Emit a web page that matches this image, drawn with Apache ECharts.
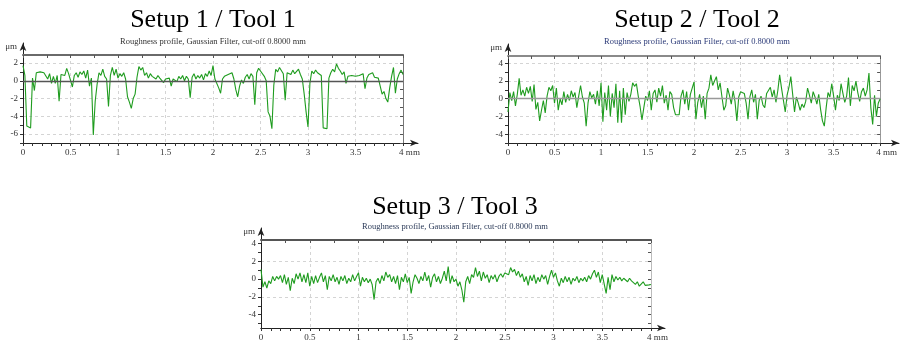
<!DOCTYPE html>
<html>
<head>
<meta charset="utf-8">
<script src="https://cdn.jsdelivr.net/npm/echarts@6/dist/echarts.min.js"></script>
<style>
    html, body { margin: 0; padding: 0; background: #fff; }
    #chartView { width: 900px; height: 342px; }
</style>
</head>
<body>
<div id="chartView"></div>
<script>
    // sampling step along the profile (mm)
    var STEP = 0.02;

    var titles = ['Setup 1 / Tool 1', 'Setup 2 / Tool 2', 'Setup 3 / Tool 3'];
    var subTitles = [
        'Roughness profile, Gaussian Filter, cut-off 0.8000 mm',
        'Roughness profile, Gaussian Filter, cut-off 0.8000 mm',
        'Roughness profile, Gaussian Filter, cut-off 0.8000 mm'
    ];
    var xLabels = ['0', '0.5', '1', '1.5', '2', '2.5', '3', '3.5', '4 mm'];
    var yUnit = 'μm';

    // profile heights in μm, one value every 0.02 mm from 0 to 4 mm
    var profile1 = [
        1.7, 0.6, -5.1, -5.2, -5.3, 0.3, -1.1, 0.9, 1.1, 1.0,
        1.1, 0.9, 1.0, 0.2, 0.8, -0.3, 0.5, -0.3, 0.6, -2.3,
        0.7, 0.9, 0.6, 1.4, 0.8, 0.9, -0.7, 0.6, 0.9, 0.4,
        1.0, 0.7, 1.1, 0.3, 1.2, -0.6, 0.3, -6.1, -2.3, -0.4,
        0.9, 0.6, 1.3, 0.5, 0.2, -2.9, 0.6, 1.5, 0.6, 1.3,
        0.3, 0.8, 0.5, 0.9, 0.2, -1.8, -2.4, -3.1, -2.0, -1.5,
        0.4, 1.6, 1.2, 1.5, 0.6, 0.9, 0.3, 0.8, 0.5, 0.7,
        0.2, 0.6, 0.3, 0.5, -0.2, 0.2, 0.0, 0.3, -0.6, 0.2,
        0.4, -0.1, 0.5, 0.2, 0.6, 0.0, 0.5, 0.2, -1.9, 0.4,
        0.8, 0.2, 0.6, 0.3, 0.7, 0.1, 0.8, 0.5, 1.1, 0.6,
        1.7, 0.2, 0.0, -0.8, -1.4, 0.2, 0.5, 0.3, 0.7, 0.5,
        0.9, 0.2, -1.0, -1.8, -0.6, 0.1, -0.3, 0.4, 0.7, 0.2,
        0.8, 0.5, -2.7, 0.9, 1.4, 1.1, 1.3, 0.5, 0.0, -3.5,
        -4.0, -5.4, -0.5, 1.3, 1.0, 1.5, 1.4, 0.8, -2.2, 0.9,
        1.1, 0.7, 1.2, 0.8, 1.0, 1.3, 0.7, 0.2, -1.5, -3.5,
        -5.2, -0.3, 1.1, 0.8, 1.2, 0.9, 1.0, 0.6, -5.3, -5.4,
        -5.4, 0.3, 0.9, 1.3, 1.0, 1.9, 1.4, 1.1, 0.7, 1.0,
        -0.3, 0.5, 0.7, 0.6, 0.8, 0.5, 0.7, 0.6, 0.4, 0.8,
        -0.9, 0.3, 0.7, 0.5, 0.9, 0.4, 0.6, 0.3, 0.5, -1.5,
        -1.2, -2.0, -2.4, -0.8, 0.5, 1.5, -1.4, 0.2, 0.8, 1.2,
        0.7
    ];
    var profile2 = [
        -1.5, 0.7, -0.2, 0.8, -0.8, 0.5, 2.3, 0.4, 1.0, 0.3,
        1.3, 0.6, 1.4, -0.3, 1.6, -1.2, -0.4, -2.5, -1.3, -0.2,
        -1.6, 0.3, 1.3, 0.9, 1.5, -0.5, 1.2, -1.3, 0.0, -0.7,
        0.8, -0.4, 0.5, -0.2, 0.9, 0.2, 0.7, -1.0, 0.3, 1.5,
        0.2, -0.5, -3.1, -0.5, 0.8, 0.1, 0.5, -0.6, 0.9, -0.8,
        1.8, -2.6, 0.7, -1.3, 1.5, -2.0, 0.6, -1.0, 1.7, -2.7,
        0.9, -2.7, 1.2, -1.8, 0.7, -0.3, 0.5, 1.8, 1.4, 1.7,
        0.3, -0.9, -2.4, -1.0, 0.3, -0.2, 0.9, -1.3, 0.6, 1.0,
        -0.4, 1.2, 0.3, 1.5, -0.5, 0.4, -1.3, 0.8, 0.5, -1.0,
        -1.8, -1.8, -1.8, 0.3, 1.0, -0.6, 0.8, -1.3, 0.5, 1.2,
        1.9, -2.3, -0.4, 0.5, -1.0, 0.3, -2.3, 0.6, 1.2, 2.7,
        1.5, 2.0, 2.5, 1.0, 1.8, 0.2, -1.3, -0.8, 1.2, 0.4,
        -0.6, 0.9, -0.3, -2.5, 0.2, 0.8, 1.0, 0.6, -0.5, -2.3,
        0.2, 1.0, -0.4, 0.5, -2.3, -0.2, 0.3, -0.7, -1.0, 0.6,
        0.5, 1.3, 0.2, 1.0, -0.4, 0.9, 2.7, 1.2, 1.0, -1.5,
        0.4, 1.3, 2.5, 2.4, -1.5, 0.2, -0.5, -1.3, -0.6, -1.0,
        -0.3, 1.2, 0.4, -0.5, 0.8, 0.2, -0.6, 0.5, -1.2, -2.5,
        -3.1, -1.0, 0.7, 0.2, 1.7, 0.3, -1.3, 0.4, -0.2, 1.7,
        0.6, -0.4, 0.3, 2.4, -0.8, 1.5, 0.9, 2.0, 0.7, -0.3,
        0.8, 1.2, 0.3, 1.0, 2.9, -1.0, -2.9, 0.4, -2.0, -0.5,
        0.0
    ];
    var profile3 = [
        1.1, -0.9, -0.3, -1.0, -0.2, -0.5, 0.3, -0.2, 0.3, 0.0,
        0.4, -0.4, 0.5, -0.6, 0.2, -1.3, 0.1, -0.5, 0.6, 0.0,
        0.7, -0.3, 0.5, -0.4, 0.7, -0.8, 0.3, -0.5, 0.4, -0.4,
        0.2, 0.7, -0.3, 0.4, -1.2, 0.3, -0.2, 0.5, -0.3, 0.2,
        -0.6, 0.3, -0.2, 0.4, -0.5, 0.1, -0.3, 0.5, -0.2, 0.3,
        0.7, -0.8, 0.2, -0.3, 0.1, -0.4, 0.0, -0.6, -2.3, -0.3,
        0.1, -0.5, 0.4, -0.2, 0.8, 0.2, 0.5, -0.3, 0.3, -0.5,
        0.4, -1.2, 0.2, -0.3, 0.6, -0.4, 0.2, -1.6, -0.3, 0.5,
        0.1, -0.5, 0.3, -0.2, 0.8, -0.2, 0.4, -0.9, 0.2, 0.6,
        -0.3, 0.3, -0.5, 0.1, 0.9, -0.2, 1.4, -0.5, 0.4, -0.3,
        0.0, -0.8, -0.3, -1.2, -2.6, -0.3, 0.3, -0.5, 0.5, 0.2,
        1.3, 0.3, 0.9, -0.2, 0.8, 0.1, 0.5, -0.4, 0.4, 0.0,
        0.5, -0.3, 0.3, 0.6, 0.2, 0.7, 0.9, 0.5, 1.3, 0.8,
        1.1, 0.4, 0.9, 0.2, 0.6, -0.3, 0.3, -0.7, 0.4, -0.2,
        0.5, -0.5, 0.2, -0.3, 0.5, 0.0, 0.4, -0.6, 0.3, 1.0,
        0.2, 0.7, -0.2, -0.8, 0.1, -0.4, 0.3, -0.3, 0.2, -0.6,
        0.1, -0.2, 0.3, -0.4, 0.1, -0.2, 0.2, -0.3, 0.4, 0.0,
        0.6, 1.0, 0.2, 0.8, -0.4, 0.5, 0.3, -1.6, 0.2, -1.2,
        0.5, -0.3, 0.3, -0.1, 0.2, -0.2, 0.1, 0.2, -0.3, 0.1,
        -0.2, 0.0, -0.6, -0.3, -0.8, -0.6, -0.3, -0.7, -0.7, -0.65,
        -0.6
    ];
    var profiles = [profile1, profile2, profile3];

    // layout of the three panels (pixels) and their y ranges
    var panels = [
        {
            frame: {left: 23, top: 55, width: 380, height: 88},
            arrow: {left: 23, top: 43, width: 395, height: 100},
            yMin: -7, yMax: 2.9, yStep: 1,
            titleX: 213, titleTop: 7, subTop: 37,
            topColor: '#6a6a6a', sideColor: '#777', zeroColor: '#555', subColor: '#333'
        },
        {
            frame: {left: 508, top: 56, width: 378, height: 87},
            arrow: {left: 508, top: 44, width: 391, height: 99},
            yMin: -5, yMax: 4.83, yStep: 1,
            titleX: 697, titleTop: 7, subTop: 37,
            topColor: '#8a8a8a', sideColor: '#999', zeroColor: '#999', subColor: '#2b3a78'
        },
        {
            frame: {left: 261, top: 240, width: 390, height: 88},
            arrow: {left: 261, top: 228, width: 404, height: 100},
            yMin: -5.5, yMax: 4.4, yStep: 0.5,
            titleX: 455, titleTop: 194, subTop: 222,
            topColor: '#555', sideColor: '#bbb', zeroColor: null, subColor: '#2b3a58'
        }
    ];

    var FONT = 'Liberation Serif';
    var chartView = echarts.init(document.getElementById('chartView'));

    function buildOption() {
        var option = {
            animation: false,
            backgroundColor: '#fff',
            title: [], grid: [], xAxis: [], yAxis: [], series: []
        };

        panels.forEach(function (p, k) {
            option.title.push({
                text: titles[k], left: p.titleX, top: p.titleTop, textAlign: 'center', padding: 0,
                textStyle: {fontFamily: FONT, fontSize: 26, fontWeight: 'normal', color: '#000'}
            });
            option.title.push({
                text: subTitles[k], left: p.titleX, top: p.subTop, textAlign: 'center', padding: 0,
                textStyle: {fontFamily: FONT, fontSize: 8.5, fontWeight: 'normal', color: p.subColor}
            });

            option.grid.push(Object.assign({containLabel: false}, p.frame));
            option.grid.push(Object.assign({containLabel: false}, p.arrow));
            var gData = k * 2, gArrow = k * 2 + 1;

            // integer y ticks, labels on even values
            var yTicks = [];
            for (var t = Math.ceil(p.yMin); t <= Math.floor(p.yMax); t++) yTicks.push(t);
            var splitColors = [];
            for (var i = 0; i < Math.round(2 / p.yStep); i++) {
                var v = p.yMin + i * p.yStep;
                splitColors.push(Math.abs(v % 2) < 1e-9 ? '#d4d4d4' : 'rgba(0,0,0,0)');
            }

            // bottom axis (data)
            option.xAxis.push({
                type: 'value', gridIndex: gData, position: 'bottom', min: 0, max: 4, interval: 0.5,
                axisLine: {onZero: false, lineStyle: {color: '#222', width: 1}},
                axisTick: {show: true, length: 3, lineStyle: {color: '#333'}},
                minorTick: {show: true, splitNumber: 5, length: 3, lineStyle: {color: '#333'}},
                axisLabel: {
                    fontFamily: FONT, fontSize: 9, color: '#333', margin: 5,
                    showMinLabel: true, showMaxLabel: true, hideOverlap: false,
                    formatter: function (val) {
                        var s = xLabels[Math.round(val * 2)];
                        return val === 4 ? '{pad|}' + s : s;
                    },
                    rich: {pad: {width: 13}}
                },
                splitLine: {show: true, lineStyle: {color: '#d4d4d4', type: [3, 3], width: 1}}
            });
            // top border with small ticks
            option.xAxis.push({
                type: 'value', gridIndex: gData, position: 'top', min: 0, max: 4, interval: 0.25,
                axisLine: {onZero: false, lineStyle: {color: p.topColor, width: 2}},
                axisTick: {show: true, inside: true, length: 3, lineStyle: {color: '#555'}},
                axisLabel: {show: false}, splitLine: {show: false}
            });
            // arrow x axis
            option.xAxis.push({
                type: 'value', gridIndex: gArrow, min: 0, max: 1,
                axisLine: {onZero: false, symbol: ['none', 'arrow'], symbolSize: [5, 8], lineStyle: {color: '#222', width: 1}},
                axisTick: {show: false}, axisLabel: {show: false}, splitLine: {show: false}
            });

            // left axis (data)
            option.yAxis.push({
                type: 'value', gridIndex: gData, position: 'left', min: p.yMin, max: p.yMax, interval: p.yStep,
                axisLine: {onZero: false, lineStyle: {color: '#222', width: 1}},
                axisTick: {show: true, length: 3, customValues: yTicks, lineStyle: {color: '#333'}},
                axisLabel: {
                    fontFamily: FONT, fontSize: 9, color: '#333', margin: 5,
                    formatter: function (val) {
                        return Math.abs(val % 2) < 1e-9 ? String(val) : '';
                    }
                },
                splitLine: {show: true, lineStyle: {color: splitColors, type: [3, 3], width: 1}}
            });
            // right border with inside ticks
            option.yAxis.push({
                type: 'value', gridIndex: gData, position: 'right', min: p.yMin, max: p.yMax, interval: p.yStep,
                axisLine: {show: true, onZero: false, lineStyle: {color: p.sideColor, width: 1}},
                axisTick: {show: true, inside: true, length: 3, customValues: yTicks, lineStyle: {color: '#555'}},
                axisLabel: {show: false}, splitLine: {show: false}
            });
            // arrow y axis with unit
            option.yAxis.push({
                type: 'value', gridIndex: gArrow, min: 0, max: 1,
                name: yUnit, nameLocation: 'end', nameGap: -4,
                nameTextStyle: {fontFamily: FONT, fontSize: 9, color: '#333', align: 'right', verticalAlign: 'middle', padding: [0, 6, 0, 0]},
                axisLine: {onZero: false, symbol: ['none', 'arrow'], symbolSize: [5, 8], lineStyle: {color: '#222', width: 1}},
                axisTick: {show: false}, axisLabel: {show: false}, splitLine: {show: false}
            });

            var series = {
                type: 'line', xAxisIndex: k * 3, yAxisIndex: k * 3,
                symbol: 'none', smooth: false,
                lineStyle: {color: '#1f9c1f', width: 1.1},
                data: profiles[k].map(function (val, idx) {
                    return [Math.round(idx * STEP * 100) / 100, val];
                })
            };
            if (p.zeroColor) {
                series.markLine = {
                    silent: true, symbol: 'none', label: {show: false},
                    lineStyle: {color: p.zeroColor, type: 'solid', width: 1.3},
                    data: [{yAxis: 0}]
                };
            }
            option.series.push(series);
        });
        return option;
    }

    chartView.setOption(buildOption());
</script>
</body>
</html>
